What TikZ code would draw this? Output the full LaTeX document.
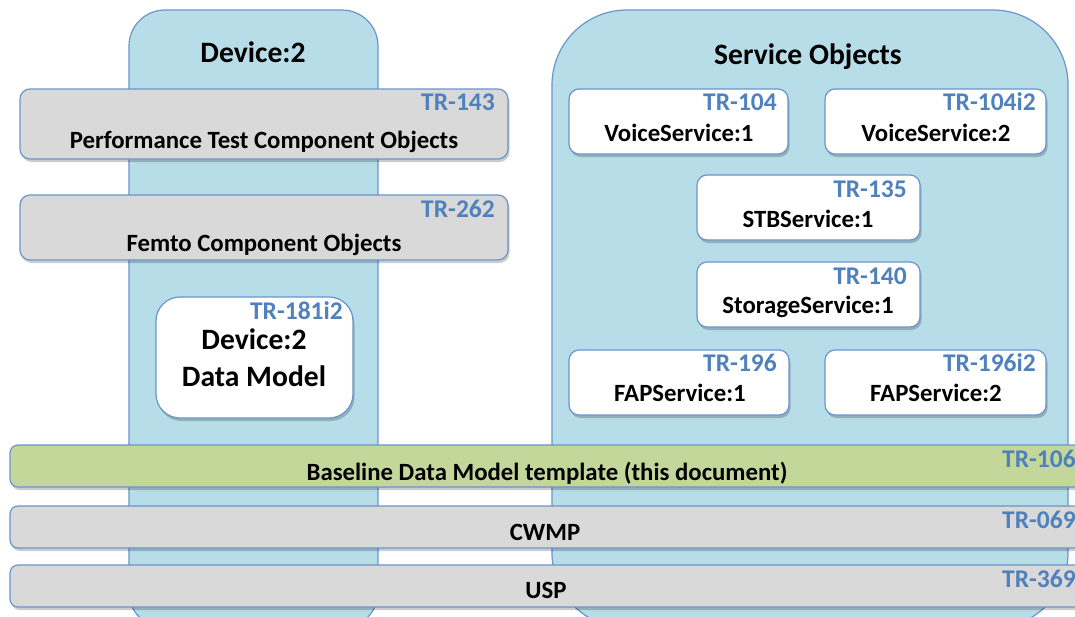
\documentclass[tikz,border=0pt]{standalone}
\usepackage{fontspec}
\setmainfont{Carlito}
\usepackage{tikz}
\usetikzlibrary{positioning}
\usetikzlibrary{shadows}
\definecolor{colfill}{HTML}{B7DDE8}
\definecolor{edgeblue}{HTML}{6A95CC}
\definecolor{trblue}{HTML}{4F81BD}
\definecolor{barfill}{HTML}{D9D9D9}
\definecolor{basefill}{HTML}{C4D79B}
\tikzstyle{column} = [draw=edgeblue, fill=colfill, line width=1.2pt, inner sep=0]
\tikzstyle{box} = [draw=edgeblue, line width=1.2pt, inner sep=0, rounded corners=10pt,
  drop shadow={shadow xshift=1.5pt, shadow yshift=-3pt, fill=black, opacity=.2}]
\tikzstyle{graybox} = [box, fill=barfill]
\tikzstyle{whitebox} = [box, fill=white]
\tikzstyle{greenbox} = [box, fill=basefill]
\tikzstyle{trlabel} = [draw=none, inner sep=0, text=trblue, font=\fontsize{25.5}{25.5}\selectfont\bfseries]
\tikzstyle{boxtext} = [draw=none, inner sep=0, font=\fontsize{24.8}{24.8}\selectfont\bfseries]
\tikzstyle{titletext} = [draw=none, inner sep=0, font=\fontsize{29.6}{29.6}\selectfont\bfseries]

\begin{document}
\begin{tikzpicture}[x=1pt, y=-1pt]
\useasboundingbox (0,0) rectangle (1075,616);
\fill[white] (0,0) rectangle (1075,616);
\clip (0,0) rectangle (1075,616);
% the two columns
\node [column, rounded corners=36pt, minimum width=249pt, minimum height=618pt] (devcol) at (253.5, 319) {};
\node [column, rounded corners=75pt, minimum width=516pt, minimum height=618pt] (svccol) at (810, 319) {};
\node [titletext, anchor=base] (devtitle) at (253, 62) {Device:2};
\node [titletext, anchor=base] (svctitle) at (808, 64) {Service Objects};
% component objects
\node [graybox, minimum width=488pt, minimum height=70pt] (perf) at (264, 124) {};
\node [trlabel, anchor=base east] (tr143) at (495, 110) {TR-143};
\node [boxtext, anchor=base] (perftext) at (264, 148) {Performance Test Component Objects};
\node [graybox, minimum width=488pt, minimum height=65pt] (femto) at (264, 227.5) {};
\node [trlabel, anchor=base east] (tr262) at (495, 217) {TR-262};
\node [boxtext, anchor=base] (femtotext) at (264, 251) {Femto Component Objects};
% device data model
\node [whitebox, rounded corners=24pt, minimum width=197pt, minimum height=121pt] (devdm) at (254.5, 357.5) {};
\node [trlabel, anchor=base east] (tr181) at (343, 319) {TR-181i2};
\node [titletext, anchor=base] (devdmone) at (254, 349) {Device:2};
\node [titletext, anchor=base] (devdmtwo) at (254, 386) {Data Model};
% service objects
\node [whitebox, minimum width=219pt, minimum height=65pt] (voice1) at (678.5, 121.5) {};
\node [trlabel, anchor=base east] (tr104) at (777, 110) {TR-104};
\node [boxtext, anchor=base] (voice1text) at (679, 141) {VoiceService:1};
\node [whitebox, minimum width=221pt, minimum height=65pt] (voice2) at (935.5, 121.5) {};
\node [trlabel, anchor=base east] (tr104i2) at (1036, 110) {TR-104i2};
\node [boxtext, anchor=base] (voice2text) at (936, 141) {VoiceService:2};
\node [whitebox, minimum width=223pt, minimum height=65pt] (stb) at (808.5, 207.5) {};
\node [trlabel, anchor=base east] (tr135) at (907, 197) {TR-135};
\node [boxtext, anchor=base] (stbtext) at (808, 227) {STBService:1};
\node [whitebox, minimum width=223pt, minimum height=65pt] (storage) at (808.5, 294.5) {};
\node [trlabel, anchor=base east] (tr140) at (907, 284) {TR-140};
\node [boxtext, anchor=base] (storagetext) at (808, 313) {StorageService:1};
\node [whitebox, minimum width=220pt, minimum height=65pt] (fap1) at (679, 382.5) {};
\node [trlabel, anchor=base east] (tr196) at (777, 371) {TR-196};
\node [boxtext, anchor=base] (fap1text) at (680, 401) {FAPService:1};
\node [whitebox, minimum width=221pt, minimum height=65pt] (fap2) at (935.5, 382.5) {};
\node [trlabel, anchor=base east] (tr196i2) at (1036, 371) {TR-196i2};
\node [boxtext, anchor=base] (fap2text) at (936, 401) {FAPService:2};
% baseline and protocol layers
\node [greenbox, rounded corners=8pt, minimum width=1085pt, minimum height=42pt] (base) at (552.5, 466) {};
\node [trlabel, anchor=base west] (tr106) at (1002, 467) {TR-106};
\node [boxtext, anchor=base] (basetext) at (547, 480) {Baseline Data Model template (this document)};
\node [graybox, rounded corners=8pt, minimum width=1085pt, minimum height=42pt] (cwmp) at (552.5, 527) {};
\node [trlabel, anchor=base west] (tr069) at (1002, 528) {TR-069};
\node [boxtext, anchor=base] (cwmptext) at (545, 540) {CWMP};
\node [graybox, rounded corners=8pt, minimum width=1085pt, minimum height=42pt] (usp) at (552.5, 586) {};
\node [trlabel, anchor=base west] (tr369) at (1002, 587) {TR-369};
\node [boxtext, anchor=base] (usptext) at (546, 598) {USP};
\end{tikzpicture}
\end{document}
